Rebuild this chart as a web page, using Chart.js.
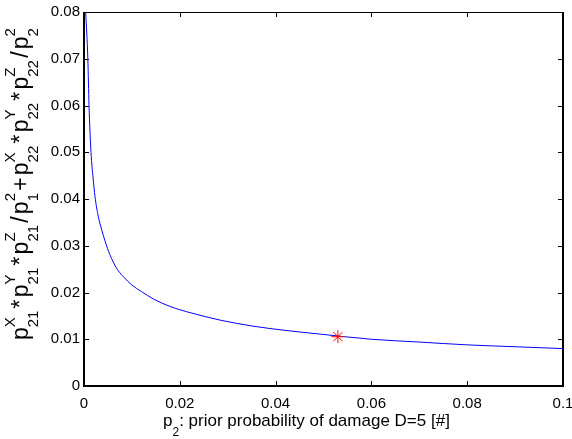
<!DOCTYPE html>
<html>
<head>
<meta charset="utf-8">
<script src="https://cdn.jsdelivr.net/npm/chart.js@4"></script>
<style>
  html, body { margin: 0; padding: 0; background: #fff; }
  #wrap { width: 572px; height: 439px; }
</style>
</head>
<body>
<div id="wrap"><canvas id="Chart"></canvas></div>
<script>
// curve
const pX     = [0.00035, 0.0008, 0.00105, 0.00146, 0.0019, 0.0023, 0.0030, 0.0037, 0.0044, 0.0054, 0.0068, 0.0082, 0.0100, 0.0120, 0.0145, 0.0180, 0.0214, 0.0284, 0.0353, 0.0420, 0.0493, 0.0600, 0.0700, 0.0800, 0.0900, 0.1000];
const curveY = [0.0800,  0.0700, 0.0600,  0.0500,  0.0445, 0.0405, 0.0362, 0.0334, 0.0310, 0.0281, 0.0252, 0.0234, 0.0216, 0.0202, 0.0186, 0.0170, 0.0159, 0.0141, 0.0128, 0.0119, 0.0111, 0.0100, 0.0094, 0.0088, 0.0084, 0.0080];

// red star
const markX = [0.0530];
const markY = [0.01055];

const xTicks = [0, 0.02, 0.04, 0.06, 0.08, 0.1];
const xTickLabels = ['0', '0.02', '0.04', '0.06', '0.08', '0.1'];
const yTicks = [0, 0.01, 0.02, 0.03, 0.04, 0.05, 0.06, 0.07, 0.08];
const yTickLabels = ['0', '0.01', '0.02', '0.03', '0.04', '0.05', '0.06', '0.07', '0.08'];

const FONT = "'Liberation Sans', Arial, Helvetica, sans-serif";

// text with stacked super/subscripts: string = plain, [base, sup, sub]
function richWidth(ctx, parts, baseFont, scriptFont, gap) {
  let w = 0;
  parts.forEach(p => {
    if (typeof p === 'string') {
      ctx.font = baseFont; w += ctx.measureText(p).width;
    } else {
      ctx.font = baseFont; w += ctx.measureText(p[0]).width;
      ctx.font = scriptFont;
      w += Math.max(p[1] ? ctx.measureText(p[1]).width : 0, p[2] ? ctx.measureText(p[2]).width : 0);
    }
    w += gap;
  });
  return w;
}

function drawRich(ctx, parts, x, y, baseFont, scriptFont, supDy, subDy, gap) {
  ctx.textBaseline = 'alphabetic';
  ctx.textAlign = 'left';
  parts.forEach(p => {
    if (typeof p === 'string') {
      ctx.font = baseFont; ctx.fillText(p, x, y);
      x += ctx.measureText(p).width;
    } else {
      ctx.font = baseFont; ctx.fillText(p[0], x, y);
      x += ctx.measureText(p[0]).width;
      ctx.font = scriptFont;
      let w = 0;
      if (p[1]) { ctx.fillText(p[1], x, y + supDy); w = ctx.measureText(p[1]).width; }
      if (p[2]) { ctx.fillText(p[2], x, y + subDy); w = Math.max(w, ctx.measureText(p[2]).width); }
      x += w;
    }
    x += gap;
  });
}

const frame = {
  id: 'frame',
  beforeDatasetsDraw(chart) {
    const {ctx, chartArea: a, scales: {x, y}} = chart;
    ctx.save();
    ctx.strokeStyle = '#000';
    ctx.lineWidth = 1;
    ctx.beginPath();
    xTicks.forEach(v => {
      const px = Math.round(x.getPixelForValue(v)) + 0.5;
      ctx.moveTo(px, a.bottom); ctx.lineTo(px, a.bottom - 5);
      ctx.moveTo(px, a.top); ctx.lineTo(px, a.top + 5);
    });
    yTicks.forEach(v => {
      const py = Math.round(y.getPixelForValue(v)) + 0.5;
      ctx.moveTo(a.left, py); ctx.lineTo(a.left + 5, py);
      ctx.moveTo(a.right, py); ctx.lineTo(a.right - 5, py);
    });
    ctx.stroke();
    ctx.beginPath();
    ctx.moveTo(a.left, a.top + 0.5); ctx.lineTo(a.right, a.top + 0.5);
    ctx.stroke();
    ctx.lineWidth = 2;
    ctx.beginPath();
    ctx.moveTo(a.left, a.top); ctx.lineTo(a.left, a.bottom);
    ctx.lineTo(a.right, a.bottom); ctx.lineTo(a.right, a.top);
    ctx.stroke();
    ctx.restore();
  },
  afterDraw(chart) {
    const ctx = chart.ctx;
    ctx.save();
    ctx.fillStyle = '#000';
    // x title
    drawRich(ctx, [['p', null, '2'], ': prior probability of damage D=5 [#]'],
      163, 426, '17px ' + FONT, '12px ' + FONT, -8, 10, 0);
    // y title, rotated
    const yParts = [['p', 'X', '21'], '*', ['p', 'Y', '21'], '*', ['p', 'Z', '21'], '/', ['p', '2', '1'], '+',
                    ['p', 'X', '22'], '*', ['p', 'Y', '22'], '*', ['p', 'Z', '22'], '/', ['p', '2', '2']];
    const bf = '23px ' + FONT, sf = '15px ' + FONT, gap = 2.2;
    const w = richWidth(ctx, yParts, bf, sf, gap);
    ctx.translate(28, 183);
    ctx.rotate(-Math.PI / 2);
    drawRich(ctx, yParts, -w / 2, 0, bf, sf, -13, 10, gap);
    ctx.restore();
  }
};

const ctx = document.getElementById('Chart');

new Chart(ctx, {
  type: 'line',
  data: {
    datasets: [{
      data: pX.map((v, i) => ({x: v, y: curveY[i]})),
      borderColor: '#0000ff',
      borderWidth: 1,
      pointRadius: 0,
      cubicInterpolationMode: 'monotone',
      order: 2
    }, {
      data: markX.map((v, i) => ({x: v, y: markY[i]})),
      showLine: false,
      pointStyle: 'star',
      pointRadius: 6.5,
      borderColor: '#ff0000',
      backgroundColor: '#ff0000',
      pointBorderWidth: 1,
      order: 1
    }]
  },
  options: {
    responsive: true,
    maintainAspectRatio: false,
    animation: false,
    devicePixelRatio: 1,
    layout: { padding: { top: 12, right: 9, left: 0, bottom: 0 } },
    plugins: { legend: { display: false }, tooltip: { enabled: false } },
    scales: {
      x: {
        type: 'linear', min: 0, max: 0.1,
        afterBuildTicks: s => { s.ticks = xTicks.map(v => ({value: v})); },
        afterFit: s => { s.height = 53; s.paddingLeft = 0; s.paddingRight = 0; },
        grid: { display: false, drawTicks: false },
        border: { display: false },
        ticks: { color: '#000', padding: 9, maxRotation: 0, font: { family: FONT, size: 15 },
                 callback: (v, i) => xTickLabels[i] }
      },
      y: {
        type: 'linear', min: 0, max: 0.08,
        afterBuildTicks: s => { s.ticks = yTicks.map(v => ({value: v})); },
        afterFit: s => { s.width = 84; s.paddingTop = 0; s.paddingBottom = 0; },
        grid: { display: false, drawTicks: false },
        border: { display: false },
        ticks: { color: '#000', padding: 4, font: { family: FONT, size: 15 },
                 callback: (v, i) => yTickLabels[i] }
      }
    }
  },
  plugins: [frame]
});
</script>
</body>
</html>
